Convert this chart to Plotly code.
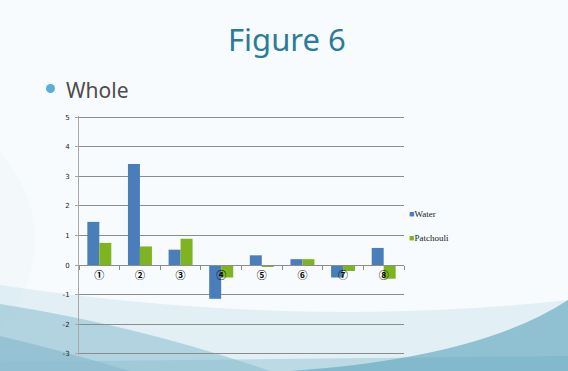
import plotly.graph_objects as go

# Data
categories = ["①", "②", "③", "④", "⑤", "⑥", "⑦", "⑧"]
water = [1.46, 3.42, 0.52, -1.14, 0.33, 0.20, -0.42, 0.58]
patchouli = [0.75, 0.63, 0.89, -0.42, -0.05, 0.20, -0.20, -0.46]
y_ticks = [-3, -2, -1, 0, 1, 2, 3, 4, 5]
series_names = ["Water", "Patchouli"]
series_colors = ["#4a7ebb", "#7db41f"]

W, H = 568, 371
L, R, T, B = 79, 164, 116, 16
PW, PH = W - L - R, H - T - B
Y_PAD = 0.04
Y_RANGE = [min(y_ticks) - Y_PAD, max(y_ticks) + Y_PAD]


def px(x, y):
    """Convert figure pixel coordinates into plot 'paper' coordinates."""
    return (x - L) / PW, (H - B - y) / PH


def path(points):
    segs = []
    for cmd, pts in points:
        coords = " ".join("%.4f,%.4f" % px(*p) for p in pts)
        segs.append(f"{cmd} {coords}")
    return " ".join(segs) + " Z"


def swoosh(points, color):
    return dict(type="path", xref="paper", yref="paper", layer="below",
                path=path(points), fillcolor=color, line=dict(width=0))


fig = go.Figure()
for name, vals, col in zip(series_names, [water, patchouli], series_colors):
    fig.add_trace(go.Bar(x=categories, y=vals, name=name, showlegend=False,
                         marker=dict(color=col, line=dict(width=0))))
    # legend entry: a small coloured square glyph in front of the name
    fig.add_trace(go.Scatter(
        x=[None], y=[None], mode="markers",
        name=f"<span style='color:{col}'>■</span>{name}",
        marker=dict(symbol="square", size=1, color="rgba(0,0,0,0)",
                    line=dict(width=0))))

# Slide background decoration (soft blue swooshes at the bottom)
shapes = [
    swoosh([("M", [(0, 150)]), ("Q", [(70, 240), (0, 330)])],
           "rgba(215,234,242,0.12)"),
    swoosh([("M", [(0, 285)]), ("Q", [(300, 330), (568, 300)]),
            ("L", [(568, 371)]), ("L", [(0, 371)])],
           "rgba(200,226,236,0.45)"),
    swoosh([("M", [(0, 304)]), ("Q", [(140, 326), (270, 371)]),
            ("L", [(0, 371)])],
           "rgba(120,178,200,0.45)"),
    swoosh([("M", [(0, 336)]), ("Q", [(60, 350), (130, 371)]),
            ("L", [(0, 371)])],
           "rgba(100,160,185,0.35)"),
    swoosh([("M", [(0, 362)]), ("L", [(568, 356)]),
            ("L", [(568, 371)]), ("L", [(0, 371)])],
           "rgba(140,190,208,0.45)"),
    swoosh([("M", [(290, 371)]), ("Q", [(480, 358), (568, 300)]),
            ("L", [(568, 371)])],
           "rgba(100,168,192,0.65)"),
    dict(type="circle", xref="paper", yref="paper", layer="above",
         x0=px(46, 0)[0], x1=px(55, 0)[0],
         y0=px(0, 93)[1], y1=px(0, 84)[1],
         fillcolor="#5aafd6", line=dict(width=0)),
]

tx, ty = px(287, 39)
wx, wy = px(64, 90)
fig.update_layout(
    width=W, height=H,
    margin=dict(l=L, r=R, t=T, b=B, pad=0),
    paper_bgcolor="#f8fbfd",
    plot_bgcolor="rgba(0,0,0,0)",
    barmode="group",
    bargap=0.41,
    bargroupgap=0,
    shapes=shapes,
    showlegend=True,
    legend=dict(x=px(369, 0)[0], y=px(0, 199)[1], xanchor="left", yanchor="top",
                bgcolor="rgba(0,0,0,0)",
                font=dict(family="Liberation Serif", size=9, color="#222"),
                itemwidth=30, tracegroupgap=5, traceorder="grouped"),
    annotations=[
        dict(text="Figure 6", x=tx, y=ty, xref="paper", yref="paper",
             xanchor="center", yanchor="middle", showarrow=False,
             font=dict(family="Noto Sans", size=31, color="#2a7c98")),
        dict(text="Whole", x=wx, y=wy, xref="paper", yref="paper",
             xanchor="left", yanchor="middle", showarrow=False,
             font=dict(family="Noto Sans", size=21, color="#4d4d4d")),
    ],
    xaxis=dict(anchor="free",
               position=(0 - Y_RANGE[0]) / (Y_RANGE[1] - Y_RANGE[0]),
               showgrid=False,
               showline=True, linecolor="#8c8c8c", linewidth=1,
               ticks="outside", tickson="boundaries", ticklen=4,
               tickcolor="#8c8c8c",
               tickfont=dict(family="Noto Sans CJK JP", size=10, color="#000",
                             weight="bold"),
               ticklabelstandoff=1,
               range=[-0.5, 7.5]),
    yaxis=dict(range=Y_RANGE, tickvals=y_ticks,
               ticktext=[str(v) for v in y_ticks], showgrid=True,
               gridcolor="#8c8c8c", gridwidth=1, zeroline=False,
               showline=True, linecolor="#a8a8a8", linewidth=1,
               ticks="outside", ticklen=3, tickcolor="#a8a8a8",
               tickfont=dict(family="DejaVu Sans", size=7, color="#222"),
               ticklabelstandoff=4),
)
for i, tr in enumerate(fig.data):
    tr.legendgroup = f"g{i // 2}"

fig.write_html("out.html")
